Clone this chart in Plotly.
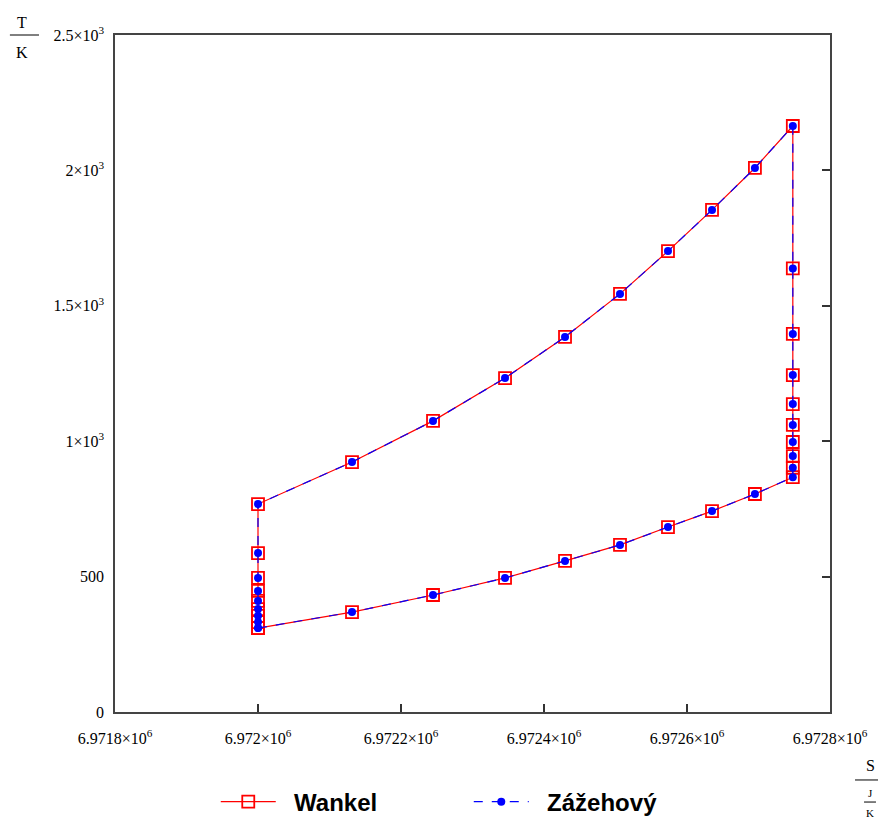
import plotly.graph_objects as go

# Entropy S [J/K] around the cycle (lower curve -> right side up -> upper curve -> left side down)
s_lower = [6.972000e6, 6.9721315e6, 6.9722448e6, 6.9723455e6, 6.9724294e6,
           6.9725063e6, 6.9725734e6, 6.972635e6, 6.972695e6, 6.972748e6]
t_lower = [310, 369, 432, 495, 558, 617, 683, 742, 805, 867]

s_right = [6.972748e6] * 9
t_right = [902, 945, 997, 1060, 1137, 1244, 1396, 1638, 2164]

s_upper = [6.972695e6, 6.972635e6, 6.9725734e6, 6.9725063e6, 6.9724294e6,
           6.9723455e6, 6.9722448e6, 6.9721315e6, 6.972000e6]
t_upper = [2009, 1854, 1702, 1544, 1385, 1233, 1075, 923, 768]

s_left = [6.972000e6] * 8
t_left = [587, 495, 447, 410, 380, 355, 332, 310]

s_cycle = s_lower + s_right + s_upper + s_left
t_wankel = t_lower + t_right + t_upper + t_left
t_zazehovy = list(t_wankel)

x_ticks = [6.9718e6, 6.9720e6, 6.9722e6, 6.9724e6, 6.9726e6, 6.9728e6]
x_tick_text = ["6.9718×10<sup>6</sup>", "6.972×10<sup>6</sup>", "6.9722×10<sup>6</sup>",
               "6.9724×10<sup>6</sup>", "6.9726×10<sup>6</sup>", "6.9728×10<sup>6</sup>"]
y_ticks = [0, 500, 1000, 1500, 2000, 2500]
y_tick_text = ["0", "500", "1×10<sup>3</sup>", "1.5×10<sup>3</sup>", "2×10<sup>3</sup>", "2.5×10<sup>3</sup>"]

fig = go.Figure()
fig.add_trace(go.Scatter(
    x=s_cycle, y=t_wankel, mode="lines+markers", name="&nbsp;&nbsp;Wankel",
    line=dict(color="#ff0000", width=1.2),
    marker=dict(symbol="square-open", size=12, color="#ff0000", line=dict(width=1.8, color="#ff0000")),
))
fig.add_trace(go.Scatter(
    x=s_cycle, y=t_zazehovy, mode="lines+markers", name="&nbsp;&nbsp;Zážehový",
    line=dict(color="#0000ff", width=1.2, dash="dash"),
    marker=dict(symbol="circle", size=8, color="#0000ff"),
))
# empty trace on a right-side axis that carries the inside y-ticks on the right edge
fig.add_trace(go.Scatter(x=[], y=[], yaxis="y2", showlegend=False, hoverinfo="skip"))

tick_font = dict(family="Liberation Serif", size=16, color="#000000")

fig.update_layout(
    width=886, height=823,
    margin=dict(l=107, r=64, t=27, b=119),
    paper_bgcolor="white", plot_bgcolor="white",
    xaxis=dict(range=[6.9718e6, 6.9728e6], tickvals=x_ticks, ticktext=x_tick_text,
               ticks="inside", ticklen=8, tickwidth=1.5, tickcolor="#333333",
               showgrid=False, zeroline=False, showline=True, linecolor="#444444",
               linewidth=1.5, mirror=True, tickfont=tick_font, ticklabelstandoff=11),
    yaxis=dict(range=[0, 2500], tickvals=y_ticks, ticktext=y_tick_text, ticks="",
               showgrid=False, zeroline=False, showline=True, linecolor="#444444",
               linewidth=1.5, mirror=True, tickfont=tick_font, ticklabelstandoff=6),
    yaxis2=dict(range=[0, 2500], tickvals=y_ticks, overlaying="y", side="right",
                ticks="inside", ticklen=8, tickwidth=1.5, tickcolor="#333333",
                showticklabels=False, showgrid=False, zeroline=False, showline=False),
    legend=dict(orientation="h", xref="container", yref="container",
                x=0.2345, y=0.0352, xanchor="left", yanchor="middle",
                font=dict(family="Liberation Sans", size=24, color="#000000", weight="bold"),
                itemwidth=55, entrywidth=183, entrywidthmode="pixels",
                bgcolor="rgba(0,0,0,0)"),
    showlegend=True,
)

# axis unit labels (fractions) like the original
ann_font = dict(family="Liberation Serif", size=16, color="#000000")
small_font = dict(family="Liberation Serif", size=11, color="#000000")


def label(x, y, text, font, yshift=0):
    fig.add_annotation(xref="paper", yref="paper", x=x, y=y, yshift=yshift, text=text,
                       showarrow=False, font=font, xanchor="center", yanchor="middle")


label(-0.130, 1.0, "T", ann_font, yshift=13)
label(-0.130, 1.0, "K", ann_font, yshift=-17)
fig.add_shape(type="line", xref="paper", yref="paper", x0=-0.147, x1=-0.1063,
              y0=1.0, y1=1.0, line=dict(color="#000000", width=1))

label(1.056, -0.0783, "S", ann_font)
fig.add_shape(type="line", xref="paper", yref="paper", x0=1.035, x1=1.077,
              y0=-0.1004, y1=-0.1004, line=dict(color="#000000", width=1))
label(1.056, -0.1196, "J", small_font)
fig.add_shape(type="line", xref="paper", yref="paper", x0=1.0476, x1=1.0643,
              y0=-0.133, y1=-0.133, line=dict(color="#000000", width=1))
label(1.056, -0.149, "K", small_font)

fig.write_html("out.html")
